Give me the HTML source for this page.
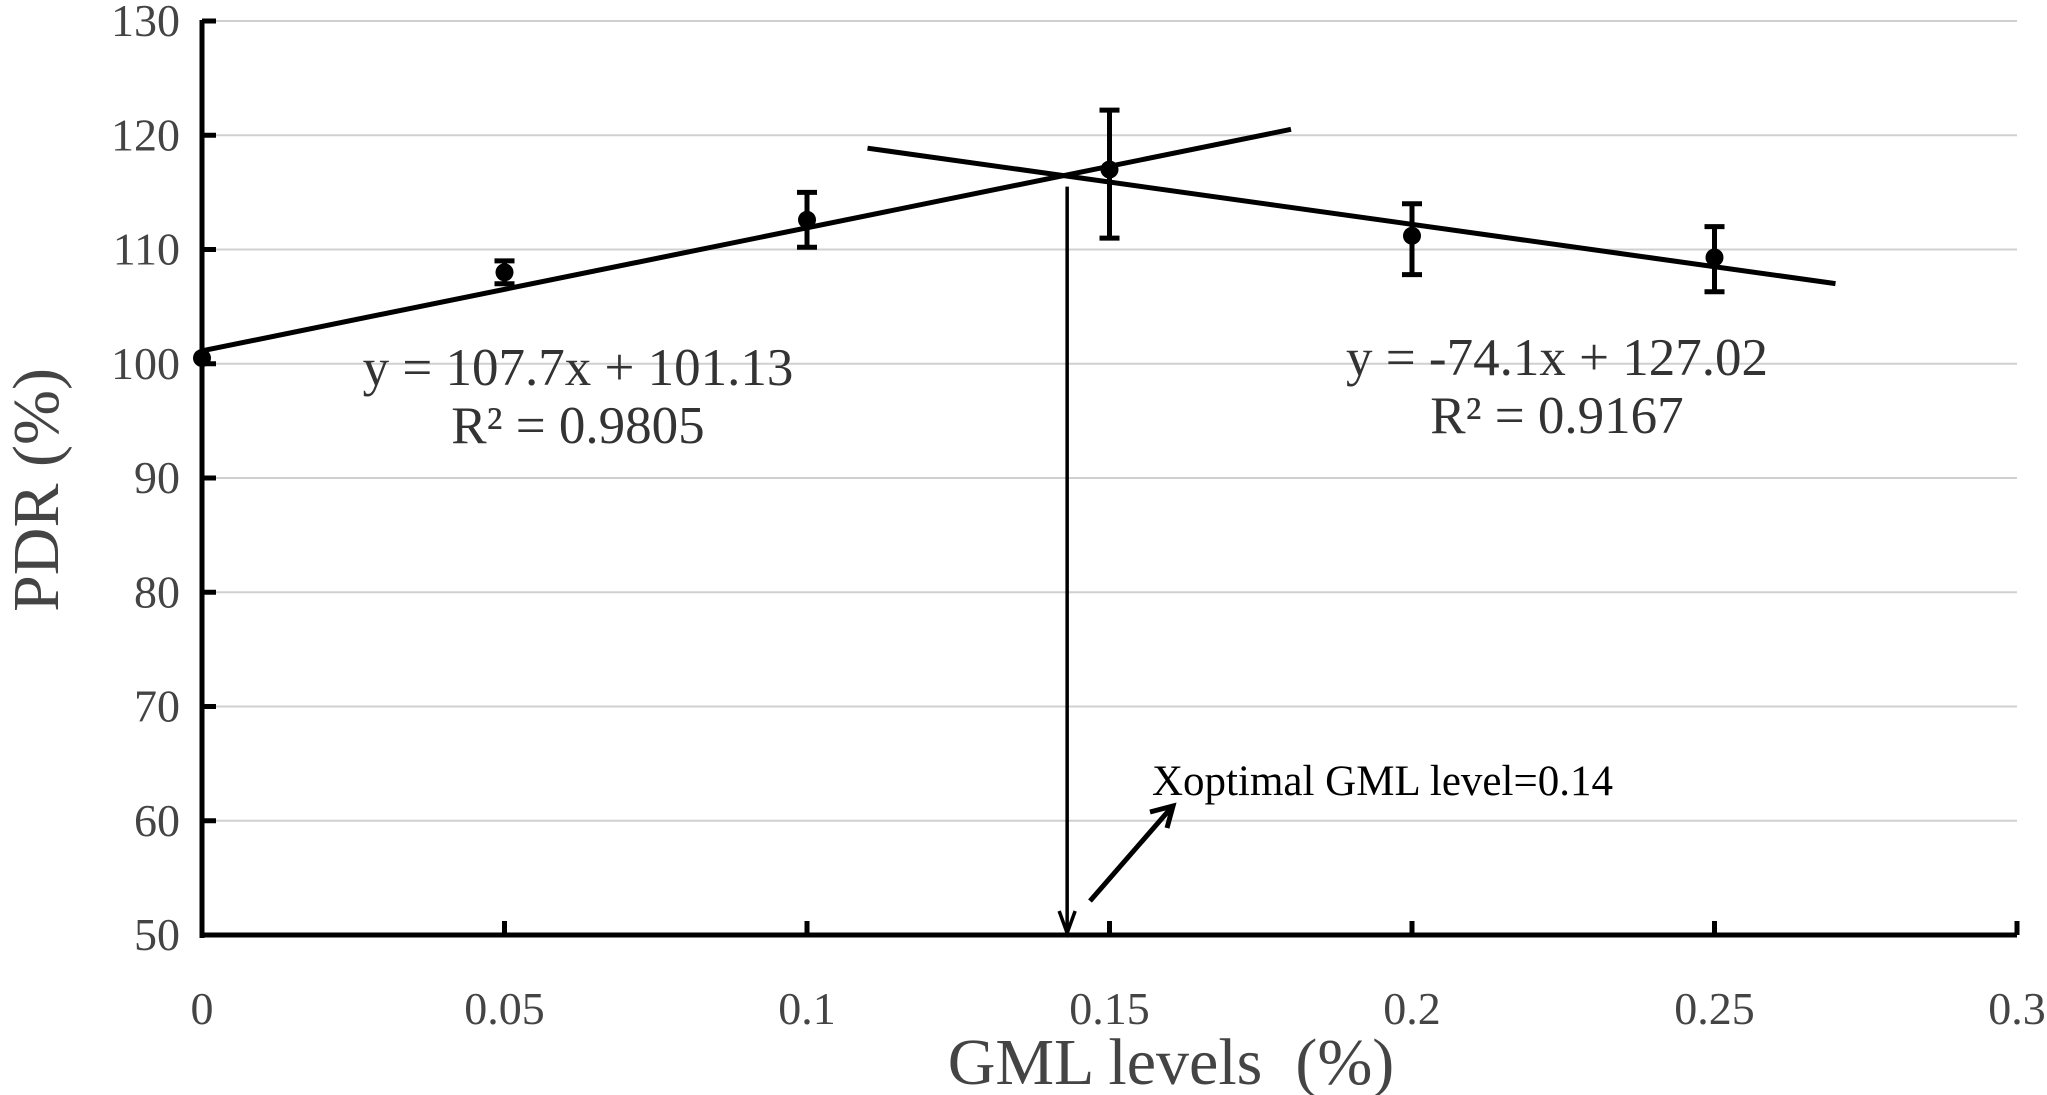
<!DOCTYPE html>
<html><head><meta charset="utf-8"><style>
html,body{margin:0;padding:0;background:#fff;}
svg{display:block;font-family:"Liberation Serif",serif;}
</style></head><body>
<svg id="chart" width="2047" height="1095" viewBox="0 0 2047 1095" xmlns="http://www.w3.org/2000/svg">
<g id="grid"></g>
<g id="axes"></g>
<g id="marks"></g>
<text transform="translate(58,490) rotate(-90)" text-anchor="middle" font-size="66" fill="#444">PDR (%)</text>
<text x="1171" y="1084" text-anchor="middle" font-size="66" fill="#444" style="white-space:pre">GML levels  (%)</text>
<text x="578" y="385" text-anchor="middle" font-size="53" fill="#333">y = 107.7x + 101.13</text>
<text x="578" y="443" text-anchor="middle" font-size="53" fill="#333">R² = 0.9805</text>
<text x="1557" y="375" text-anchor="middle" font-size="53" fill="#333">y = -74.1x + 127.02</text>
<text x="1557" y="433" text-anchor="middle" font-size="53" fill="#333">R² = 0.9167</text>
<text x="1152" y="795" font-size="43" fill="#000">Xoptimal GML level=0.14</text>
</svg>
<script>
const xTicks=[0,0.05,0.1,0.15,0.2,0.25,0.3];
const xTickLabels=["0","0.05","0.1","0.15","0.2","0.25","0.3"];
const yTicks=[50,60,70,80,90,100,110,120,130];
const xValues=[0,0.05,0.1,0.15,0.2,0.25];
const yValues=[100.5,108,112.6,117,111.2,109.3];
const errLow=[100.5,107,110.2,111,107.8,106.3];
const errHigh=[100.5,109,115,122.2,114,112];
const leftFit=[107.7,101.13]; const leftRange=[0,0.18];
const rightFit=[-74.1,127.02]; const rightRange=[0.11,0.27];
const optimalX=0.143;

const NS="http://www.w3.org/2000/svg";
const X=v=>202+v/0.05*302.5;
const Y=v=>935-(v-50)*11.425;
function mk(parent,tag,attrs){const e=document.createElementNS(NS,tag);for(const k in attrs)e.setAttribute(k,attrs[k]);document.getElementById(parent).appendChild(e);return e;}

yTicks.forEach((t,i)=>{
  if(t>50){const g=mk('grid','line',{x1:215,x2:2017,y1:Y(t),y2:Y(t),stroke:'#d0d0d0','stroke-width':2});
  
  }
  const tk=mk('axes','line',{x1:202,x2:216,y1:Y(t),y2:Y(t),stroke:'#000','stroke-width':5});
  
  
  const tl=mk('axes','text',{x:180,y:Y(t)+15,'text-anchor':'end','font-size':46,fill:'#444'});
  tl.textContent=t;
  
  
});
xTicks.forEach((t,i)=>{
  const tk=mk('axes','line',{x1:X(t),x2:X(t),y1:935,y2:921,stroke:'#000','stroke-width':5});
  
  
  const tl=mk('axes','text',{x:X(t),y:1024,'text-anchor':'middle','font-size':46,fill:'#444'});
  tl.textContent=xTickLabels[i];
  
  
});
const ya=mk('axes','line',{x1:202,x2:202,y1:20,y2:938,stroke:'#000','stroke-width':5});


const xa=mk('axes','line',{x1:200,x2:X(0.3),y1:935,y2:935,stroke:'#000','stroke-width':5});



function fitLine(f,r,name){
  const l=mk('marks','line',{x1:X(r[0]),y1:Y(f[0]*r[0]+f[1]),x2:X(r[1]),y2:Y(f[0]*r[1]+f[1]),stroke:'#000','stroke-width':5});
  
  
}
fitLine(leftFit,leftRange,'left-trendline');
fitLine(rightFit,rightRange,'right-trendline');

xValues.forEach((x,i)=>{
  if(errHigh[i]>errLow[i]){
    const e=mk('marks','path',{d:`M${X(x)-10},${Y(errHigh[i])}H${X(x)+10}M${X(x)},${Y(errHigh[i])}V${Y(errLow[i])}M${X(x)-10},${Y(errLow[i])}H${X(x)+10}`,stroke:'#000','stroke-width':5,fill:'none'});
    
    
  }
  const c=mk('marks','circle',{cx:X(x),cy:Y(yValues[i]),r:9,fill:'#000'});
  
  
});

const ox=X(optimalX);
const va=mk('marks','path',{d:`M${ox},${Y(115.5)}V${Y(50)-4}M${ox-8},${Y(50)-24}L${ox},${Y(50)-2}L${ox+8},${Y(50)-24}`,stroke:'#000','stroke-width':3.5,fill:'none'});


const da=mk('marks','path',{d:'M1090,901L1171,808M1150,812L1173,806L1167,828',stroke:'#000','stroke-width':5,fill:'none'});


</script>
</body></html>
